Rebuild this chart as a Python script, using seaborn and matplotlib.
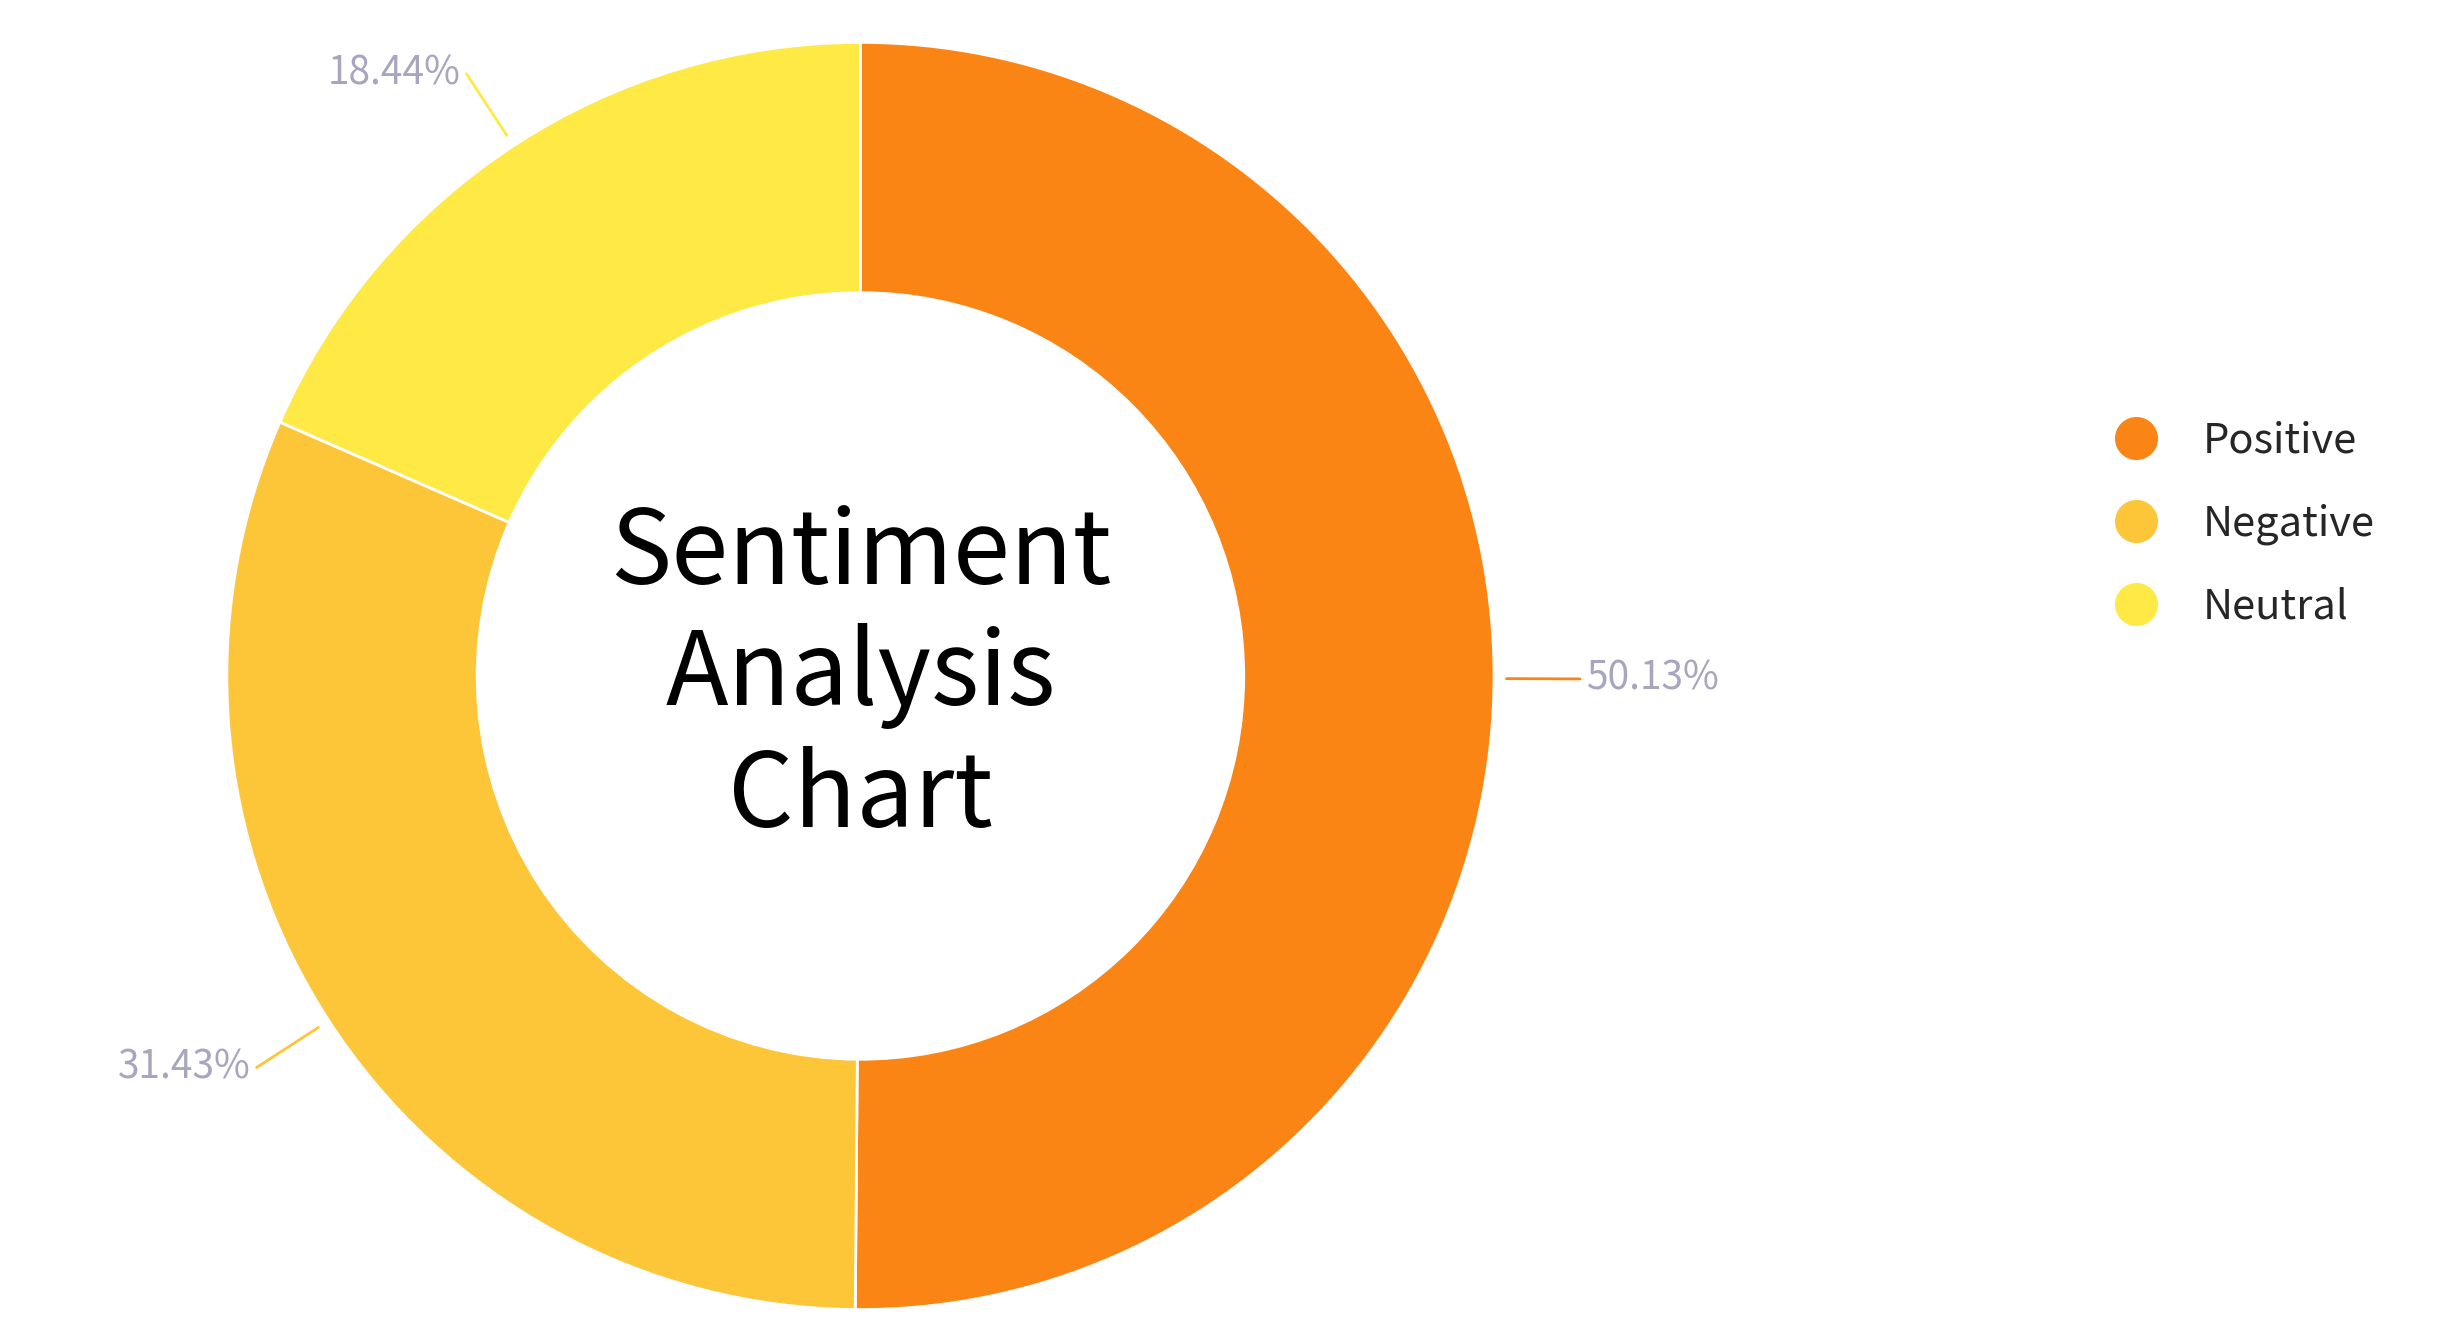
import matplotlib
matplotlib.use("Agg")
import matplotlib.pyplot as plt
from matplotlib.lines import Line2D
import numpy as np
import seaborn as sns

categories = ["Positive", "Negative", "Neutral"]
values = [50.13, 31.43, 18.44]
colors = ["#FA8515", "#FDC639", "#FEE945"]
title_text = "Sentiment\nAnalysis\nChart"

sns.set_theme(style="white")
plt.rcParams['font.family'] = ['Noto Sans CJK SC', 'DejaVu Sans']

fig = plt.figure(figsize=(24.53, 13.41), dpi=100)
ax = fig.add_axes([0, 0, 1, 1])
W, H = 1568, 857
ax.set_xlim(0, W)
ax.set_ylim(0, H)
ax.set_aspect('equal')
ax.axis('off')

cx, cy, R = 550, H - 432, 405
wedges, _ = ax.pie(values, colors=colors, startangle=90, counterclock=False,
                   center=(cx, cy), radius=R, frame=True,
                   wedgeprops=dict(width=R - 245, edgecolor='white', linewidth=2))
ax.set_xlim(0, W); ax.set_ylim(0, H); ax.axis('off')

for w, v, c in zip(wedges, values, colors):
    ang = np.deg2rad((w.theta1 + w.theta2) / 2)
    x0, y0 = cx + (R + 8) * np.cos(ang), cy + (R + 8) * np.sin(ang)
    x1, y1 = cx + (R + 55) * np.cos(ang), cy + (R + 55) * np.sin(ang)
    side = 1 if np.cos(ang) >= 0 else -1
    ax.plot([x0, x1], [y0, y1], color=c, lw=2)
    ax.text(x1 + side * 4, y1, f"{v:.2f}%", color="#A8A6BE", fontsize=28,
            ha='left' if side > 0 else 'right', va='center')

ax.text(cx, cy, title_text, ha='center', va='center', fontsize=74,
        color='black', linespacing=1.2)

handles = [Line2D([], [], marker='o', linestyle='', markersize=30,
                  markerfacecolor=c, markeredgecolor=c) for c in colors]
ax.legend(handles, categories, loc='upper left',
          bbox_to_anchor=(1315 / W, 1 - 245 / H), frameon=False,
          fontsize=30, labelspacing=1.0, handletextpad=0.6)

fig.savefig("out.png", dpi=100, facecolor='white')
